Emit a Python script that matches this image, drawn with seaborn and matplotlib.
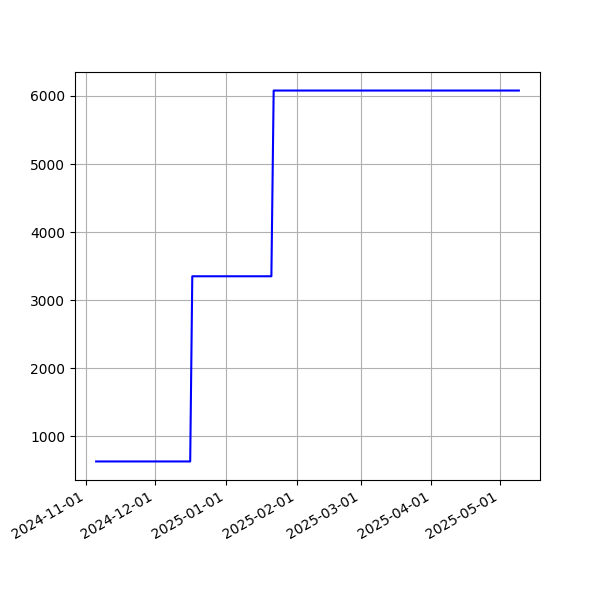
import pandas as pd
import matplotlib
matplotlib.use("Agg")
import matplotlib.pyplot as plt
import matplotlib.dates as mdates
import seaborn as sns

# Step data
dates = ["2024-11-05 09:00", "2024-12-16 12:00", "2024-12-17 10:00",
         "2025-01-21 00:00", "2025-01-22 00:00", "2025-05-09 05:00"]
values = [628, 628, 3350, 3350, 6080, 6080]

df = pd.DataFrame({"date": pd.to_datetime(dates, format="%Y-%m-%d %H:%M"), "value": values})

fig, ax = plt.subplots(figsize=(6, 6), dpi=100)

sns.lineplot(data=df, x="date", y="value", color="blue", ax=ax)

ax.set_xlabel("")
ax.set_ylabel("")
ax.grid(True)
ax.xaxis.set_major_locator(mdates.MonthLocator())
ax.xaxis.set_major_formatter(mdates.DateFormatter("%Y-%m-%d"))
fig.autofmt_xdate()

plt.savefig("out.png")
